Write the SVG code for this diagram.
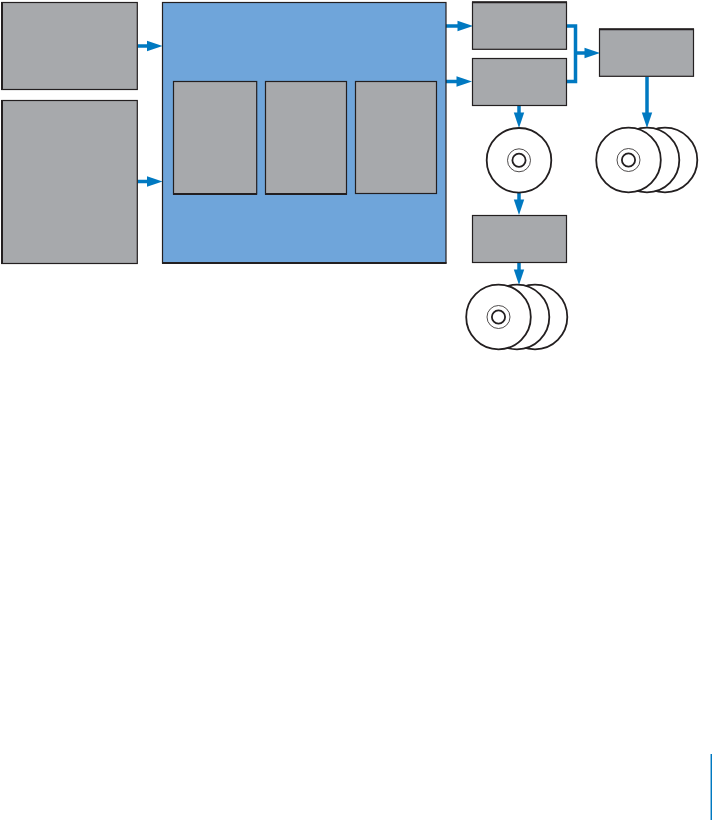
<svg xmlns="http://www.w3.org/2000/svg" width="712" height="820" viewBox="0 0 712 820">
<style>
.box{fill:#a7a9ac;stroke:#231f20;stroke-width:1.2}
.main{fill:#6fa5da;stroke:#231f20;stroke-width:1.2}
.disc{fill:#fff;stroke:#231f20;stroke-width:1.800}
.thin{fill:none;stroke:#231f20;stroke-width:.8}
.hub{fill:#fff;stroke:#231f20;stroke-width:1.800}
.wire{fill:none;stroke:#0079c1;stroke-width:3.500}
.head{fill:#0079c1}
.edge{fill:none;stroke:#231f20;stroke-width:2}
</style>
<defs>
<g id="cd"><circle class="disc" r="32.300"/><circle class="thin" r="11.500"/><circle class="hub" r="6.600"/></g>
<polygon id="ar" class="head" points="-15.500,-5.200 0,0 -15.500,5.200"/>
</defs>
<g id="connectors">
<path class="wire" d="M138 46H150M138 181.500H150M446 26H460M446 81.500H459M567 26H575.500V81.500H567M575.500 53H592M519 106V118M519 193V206M519 262.500V275M647 77V118"/>
<use href="#ar" x="162.500" y="46"/>
<use href="#ar" x="162.500" y="181.500"/>
<use href="#ar" x="473" y="26"/>
<use href="#ar" x="472" y="81.500"/>
<use href="#ar" x="600" y="53"/>
<use href="#ar" transform="translate(519 128) rotate(90)"/>
<use href="#ar" transform="translate(519 215) rotate(90)"/>
<use href="#ar" transform="translate(519 285) rotate(90)"/>
<use href="#ar" transform="translate(647 128) rotate(90)"/>
<path d="M711.300 754V820" fill="none" stroke="#0079c1" stroke-width="1.500"/>
</g>
<g id="source-top"><rect class="box" x="1.800" y="2.500" width="135.500" height="87"/><path class="edge" d="M2 2V90"/></g>
<g id="source-bottom"><rect class="box" x="1.800" y="100.500" width="135.500" height="163"/><path class="edge" d="M2 100V264"/></g>
<g id="main"><rect class="main" x="162.500" y="2.500" width="283.500" height="260.500"/><path class="edge" d="M162 263H446.500"/></g>
<g id="inner-1"><rect class="box" x="173.500" y="81.500" width="83.200" height="112.500"/><path class="edge" d="M173 194H257"/></g>
<g id="inner-2"><rect class="box" x="265.500" y="81.500" width="81" height="112.500"/><path class="edge" d="M265 194H347"/></g>
<g id="inner-3"><rect class="box" x="355.500" y="81.500" width="81" height="112"/></g>
<g id="out-1"><rect class="box" x="472.500" y="2.300" width="94" height="47"/><path class="edge" d="M472 2.300H567"/></g>
<g id="out-2"><rect class="box" x="472.500" y="58.500" width="94" height="47"/></g>
<g id="out-3"><rect class="box" x="599.500" y="29.300" width="94" height="47"/><path class="edge" d="M599 29.300H694"/></g>
<g id="out-4"><rect class="box" x="472.500" y="215.500" width="94" height="47"/></g>
<g id="disc-single"><use href="#cd" x="519" y="160.300"/></g>
<g id="disc-stack-right">
<circle class="disc" cx="665" cy="160" r="32.300"/>
<circle class="disc" cx="647" cy="160" r="32.300"/>
<use href="#cd" x="628.500" y="160"/>
</g>
<g id="disc-stack-bottom">
<circle class="disc" cx="535" cy="317" r="32.300"/>
<circle class="disc" cx="517" cy="317" r="32.300"/>
<use href="#cd" x="498.500" y="317"/>
</g>
</svg>
